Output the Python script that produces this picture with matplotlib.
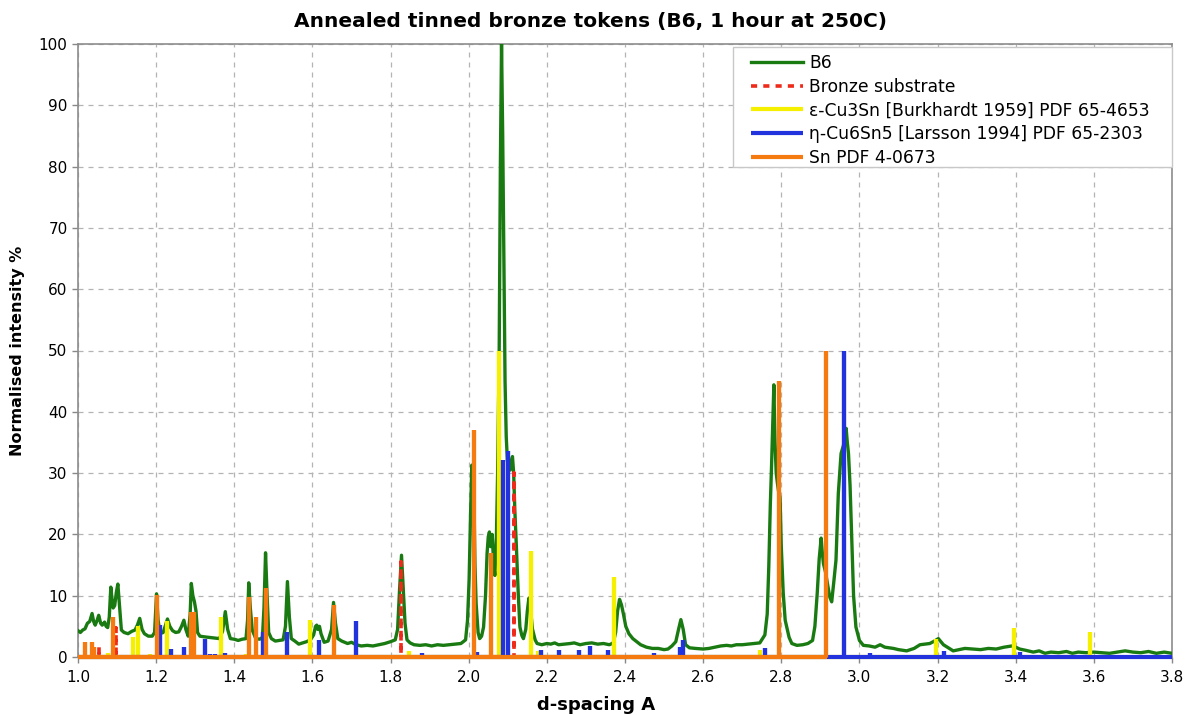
import matplotlib
matplotlib.use("Agg")
import matplotlib.pyplot as plt
from matplotlib.patches import Rectangle
import numpy as np

plt.rcParams['font.family'] = ['DejaVu Sans']

# ---- measured diffraction pattern B6 (d-spacing in A, normalised intensity %) ----
b6_d = [
    1.000, 1.006, 1.012, 1.018, 1.024, 1.030, 1.036, 1.040, 1.044, 1.049, 1.053, 1.058,
    1.062, 1.068, 1.072, 1.076, 1.080, 1.084, 1.087, 1.090, 1.094, 1.098, 1.102, 1.106,
    1.111, 1.118, 1.128, 1.138, 1.146, 1.152, 1.158, 1.164, 1.170, 1.180, 1.190, 1.196,
    1.201, 1.205, 1.210, 1.218, 1.224, 1.229, 1.235, 1.242, 1.250, 1.258, 1.265, 1.271,
    1.276, 1.282, 1.287, 1.290, 1.294, 1.298, 1.302, 1.306, 1.312, 1.322, 1.335, 1.350,
    1.362, 1.370, 1.377, 1.383, 1.390, 1.400, 1.410, 1.420, 1.430, 1.434, 1.437, 1.441,
    1.446, 1.455, 1.465, 1.472, 1.476, 1.480, 1.484, 1.488, 1.495, 1.505, 1.515, 1.525,
    1.531, 1.536, 1.541, 1.546, 1.555, 1.565, 1.575, 1.585, 1.595, 1.603, 1.608, 1.611,
    1.614, 1.618, 1.622, 1.630, 1.640, 1.649, 1.654, 1.659, 1.665, 1.675, 1.690, 1.700,
    1.712, 1.725, 1.740, 1.755, 1.770, 1.785, 1.800, 1.812, 1.818, 1.823, 1.828, 1.833,
    1.837, 1.842, 1.850, 1.860, 1.875, 1.890, 1.905, 1.920, 1.935, 1.950, 1.965, 1.980,
    1.992, 1.997, 2.001, 2.005, 2.008, 2.011, 2.013, 2.016, 2.019, 2.024, 2.028, 2.033,
    2.038, 2.043, 2.047, 2.050, 2.053, 2.056, 2.060, 2.064, 2.067, 2.071, 2.074, 2.078,
    2.081, 2.084, 2.087, 2.090, 2.093, 2.096, 2.099, 2.102, 2.106, 2.109, 2.112, 2.115,
    2.118, 2.122, 2.127, 2.131, 2.136, 2.140, 2.146, 2.150, 2.154, 2.158, 2.163, 2.170,
    2.175, 2.187, 2.200, 2.210, 2.220, 2.230, 2.245, 2.260, 2.270, 2.285, 2.300, 2.315,
    2.330, 2.345, 2.360, 2.370, 2.376, 2.381, 2.386, 2.391, 2.396, 2.402, 2.410, 2.420,
    2.430, 2.440, 2.455, 2.470, 2.485, 2.500, 2.510, 2.520, 2.530, 2.537, 2.543, 2.549,
    2.555, 2.565, 2.580, 2.600, 2.615, 2.630, 2.645, 2.660, 2.672, 2.685, 2.700, 2.715,
    2.730, 2.745, 2.752, 2.758, 2.764, 2.768, 2.772, 2.775, 2.778, 2.781, 2.784, 2.787,
    2.790, 2.793, 2.797, 2.800, 2.805, 2.810, 2.814, 2.820, 2.827, 2.840, 2.855, 2.868,
    2.880, 2.886, 2.892, 2.897, 2.902, 2.905, 2.908, 2.913, 2.918, 2.924, 2.929, 2.934,
    2.940, 2.946, 2.953, 2.959, 2.963, 2.966, 2.969, 2.972, 2.976, 2.980, 2.985, 2.991,
    3.000, 3.010, 3.025, 3.040, 3.053, 3.065, 3.087, 3.100, 3.121, 3.140, 3.155, 3.180,
    3.192, 3.202, 3.210, 3.215, 3.230, 3.240, 3.255, 3.270, 3.290, 3.310, 3.330, 3.350,
    3.370, 3.390, 3.400, 3.410, 3.425, 3.445, 3.460, 3.475, 3.490, 3.510, 3.530, 3.545,
    3.560, 3.580, 3.600, 3.620, 3.640, 3.660, 3.680, 3.700, 3.720, 3.740, 3.760, 3.780,
    3.800,
]
b6_i = [
    4.3, 4.0, 4.4, 4.6, 5.5, 5.8, 7.1, 5.8, 5.2, 6.0, 6.8, 5.5,
    5.2, 5.7, 5.0, 4.8, 6.5, 11.4, 9.5, 8.0, 8.4, 10.5, 11.9, 8.5,
    4.4, 4.0, 3.8, 4.2, 4.4, 5.2, 6.3, 4.5, 3.8, 3.4, 3.4, 4.0,
    10.3, 6.0, 3.8, 4.0, 5.2, 6.2, 5.0, 4.3, 4.0, 4.1, 5.0, 6.0,
    4.5, 3.4, 7.0, 12.0, 10.0, 9.0, 7.5, 4.0, 3.4, 3.3, 3.2, 3.1,
    3.0, 4.2, 7.4, 4.5, 3.0, 2.9, 2.7, 2.9, 3.0, 6.0, 12.1, 8.0,
    4.4, 3.0, 2.9, 3.2, 8.0, 17.0, 10.0, 4.0, 3.0, 2.6, 2.7, 2.8,
    5.0, 12.3, 6.5, 3.0, 2.6, 2.1, 2.3, 2.5, 2.8, 3.6, 5.0, 5.2,
    4.5, 5.0, 3.8, 2.4, 2.6, 4.5, 8.9, 5.5, 3.0, 2.6, 2.2, 2.4,
    2.0, 1.8, 1.9, 1.8, 2.0, 2.2, 2.5, 2.8, 4.5, 11.0, 16.6, 10.5,
    5.5, 2.8, 2.3, 2.0, 1.9, 2.0, 1.8, 2.0, 1.9, 2.0, 2.1, 2.2,
    2.8, 6.0, 12.6, 24.0, 31.3, 28.5, 27.8, 15.0, 8.7, 4.0, 3.0, 3.4,
    4.9, 10.0, 16.9, 19.6, 20.4, 18.0, 20.0, 15.0, 13.3, 20.0, 30.0, 50.0,
    80.0, 100.0, 85.0, 65.0, 45.0, 36.0, 32.0, 31.0, 30.5, 32.0, 32.7, 30.0,
    24.0, 18.0, 10.0, 4.9, 3.5, 3.0, 4.5, 7.5, 9.6, 8.0, 4.6, 2.8,
    2.2, 2.0, 2.2, 2.1, 2.3, 2.0, 2.1, 2.2, 2.3, 2.0, 2.2, 2.3,
    2.1, 2.2, 2.0, 2.3, 4.0, 7.5, 9.4, 8.5, 7.0, 5.0, 3.8, 3.0,
    2.5, 2.0, 1.6, 1.4, 1.4, 1.2, 1.3, 1.8, 2.5, 4.5, 6.1, 4.5,
    2.0, 1.5, 1.4, 1.3, 1.4, 1.6, 1.8, 1.9, 1.8, 2.0, 2.0, 2.1,
    2.2, 2.3, 3.0, 3.6, 7.0, 14.7, 25.0, 31.0, 38.0, 44.4, 35.0, 30.0,
    28.4, 27.0, 25.9, 18.0, 10.4, 6.0, 4.9, 3.2, 2.2, 1.9, 2.0, 2.2,
    2.7, 5.0, 10.4, 16.0, 19.4, 17.0, 15.2, 13.9, 12.0, 9.8, 9.0, 12.0,
    15.8, 26.7, 33.2, 34.5, 36.0, 37.3, 35.0, 33.2, 28.0, 20.0, 10.0, 4.9,
    2.7, 1.9, 1.8, 1.6, 2.0, 1.6, 1.4, 1.2, 1.0, 1.4, 2.0, 2.2,
    2.6, 3.0, 2.4, 2.0, 1.4, 1.0, 1.2, 1.4, 1.3, 1.2, 1.4, 1.3,
    1.6, 1.8, 1.6, 1.3, 1.1, 0.8, 1.0, 0.6, 0.8, 0.7, 0.9, 0.6,
    0.8, 0.7, 0.8, 0.7, 0.6, 0.8, 1.0, 0.8, 0.7, 0.9, 0.6, 0.8,
    0.6,
]

# ---- reference stick patterns (d-spacing, relative intensity) ----
bronze_d = [1.053, 1.098, 1.827, 2.117]
bronze_i = [1.6, 4.8, 15.5, 30.0]

eps_d = [1.077, 1.141, 1.154, 1.183, 1.229, 1.367, 1.431, 1.595, 1.683, 1.696,
         1.848, 1.942, 2.078, 2.159, 2.177, 2.372, 2.746, 3.195, 3.396, 3.590]
eps_i = [0.7, 3.3, 5.1, 0.5, 5.9, 6.5, 0.5, 6.0, 0.4, 0.4,
         1.0, 0.3, 50.0, 17.3, 0.9, 13.0, 1.2, 2.9, 4.7, 4.0]

eta_d = [1.209, 1.239, 1.271, 1.326, 1.337, 1.350, 1.375, 1.474, 1.536, 1.572,
         1.618, 1.712, 1.880, 1.897, 1.922, 1.978, 2.020, 2.087, 2.100, 2.185,
         2.232, 2.283, 2.310, 2.356, 2.428, 2.475, 2.541, 2.548, 2.673, 2.758,
         2.822, 2.891, 2.961, 3.027, 3.217, 3.377, 3.411]
eta_i = [5.2, 1.3, 1.6, 3.0, 0.5, 0.5, 0.6, 4.0, 4.1, 0.4,
         2.8, 5.9, 0.6, 0.4, 0.4, 0.3, 0.8, 32.2, 33.6, 1.2,
         1.1, 1.2, 1.8, 1.1, 0.3, 0.6, 1.6, 2.8, 0.3, 1.4,
         0.3, 0.3, 50.0, 0.6, 0.9, 0.3, 0.8]

sn_d = [1.019, 1.036, 1.040, 1.090, 1.201, 1.290, 1.297, 1.438, 1.455, 1.480,
        1.654, 2.014, 2.057, 2.793, 2.915]
sn_i = [2.5, 2.5, 1.6, 6.5, 10.1, 7.4, 7.4, 9.8, 6.5, 11.3,
        8.5, 37.0, 16.9, 45.0, 50.0]

x_ticks = [1.0, 1.2, 1.4, 1.6, 1.8, 2.0, 2.2, 2.4, 2.6, 2.8, 3.0, 3.2, 3.4, 3.6, 3.8]
y_ticks = [0, 10, 20, 30, 40, 50, 60, 70, 80, 90, 100]

labels = [
    "B6",
    "Bronze substrate",
    "\u03b5-Cu3Sn [Burkhardt 1959] PDF 65-4653",
    "\u03b7-Cu6Sn5 [Larsson 1994] PDF 65-2303",
    "Sn PDF 4-0673",
]


def stick_trace(d, h, start, end):
    """Continuous trace that sits on zero and jumps up to each stick."""
    xs, ys = [start], [0.0]
    for di, hi in zip(d, h):
        xs += [di, di, di]
        ys += [0.0, hi, 0.0]
    xs.append(end)
    ys.append(0.0)
    return xs, ys


W, H = 1195, 715
fig = plt.figure(figsize=(W / 100, H / 100), dpi=100)
ax = fig.add_axes([78 / W, 58 / H, (1172 - 78) / W, (657 - 44) / H])

ax.plot(b6_d, b6_i, color="#1a7a12", lw=2.4, zorder=3, label=labels[0])

bx, by = stick_trace(bronze_d, bronze_i, 1.0, 2.125)
ax.plot(bx, by, color="#ee2a1b", lw=2.6, ls=(0, (1.7, 1.7)), zorder=4,
        solid_joinstyle="bevel", dash_capstyle="butt", label=labels[1], clip_on=False)

ex, ey = stick_trace(eps_d, eps_i, 1.0, 3.60)
ax.plot(ex, ey, color="#f5f000", lw=3.0, zorder=5, solid_joinstyle="bevel",
        solid_capstyle="butt", label=labels[2], clip_on=False)

hx, hy = stick_trace(eta_d, eta_i, 1.0, 3.80)
ax.plot(hx, hy, color="#2233dd", lw=3.0, zorder=6, solid_joinstyle="bevel",
        solid_capstyle="butt", label=labels[3], clip_on=False)

sx, sy = stick_trace(sn_d, sn_i, 1.0, 2.918)
ax.plot(sx, sy, color="#f57a10", lw=3.0, zorder=7, solid_joinstyle="bevel",
        solid_capstyle="butt", label=labels[4], clip_on=False)

ax.set_xlim(1.0, 3.8)
ax.set_ylim(0, 100)
ax.set_xticks(x_ticks)
ax.set_xticklabels([f"{t:.1f}" for t in x_ticks])
ax.set_yticks(y_ticks)
ax.tick_params(axis="both", labelsize=11, direction="out", length=4, color="#888888", width=1)
ax.tick_params(axis="x", pad=5)

ax.grid(True, color="#b4b4b4", ls=(0, (4, 4)), lw=0.9)
ax.set_axisbelow(True)
for side in ["left", "right", "top", "bottom"]:
    ax.spines[side].set_color("#8c8c8c")
    ax.spines[side].set_linewidth(1.2)

ax.set_ylabel("Normalised intensity %", fontsize=11.5, fontweight="bold", labelpad=10)
fig.text(596 / W, 1 - 705 / H, "d-spacing A", ha="center", va="center",
         fontsize=13, fontweight="bold")
fig.text(591 / W, 1 - 22 / H, "Annealed tinned bronze tokens (B6, 1 hour at 250C)",
         ha="center", va="center", fontsize=14.5, fontweight="bold")

# legend box with wide side padding, entries placed inside it
box = Rectangle((733 / W, 1 - 167 / H), (1172 - 733) / W, (167 - 47) / H,
                transform=fig.transFigure, facecolor="white", edgecolor="#c8c8c8",
                lw=1.0, zorder=9, clip_on=False)
ax.add_patch(box)
leg = ax.legend(loc="upper right", bbox_to_anchor=(1150 / W, 1 - 54 / H),
                bbox_transform=fig.transFigure, fontsize=12.3, frameon=False,
                handlelength=3.0, handletextpad=0.4, labelspacing=0.33,
                borderpad=0.0, borderaxespad=0.0)
leg.set_zorder(10)

fig.savefig("out.png", dpi=100)
